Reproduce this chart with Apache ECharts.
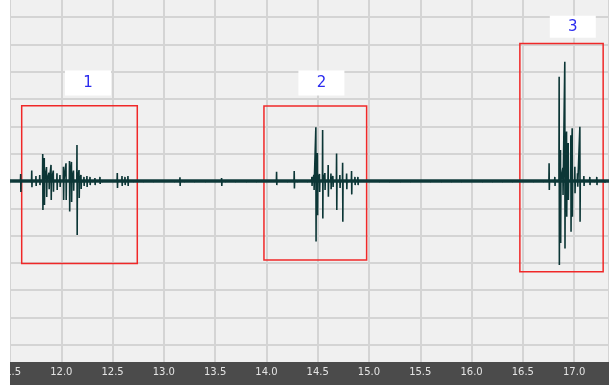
<!DOCTYPE html>
<html>
<head>
<meta charset="utf-8">
<script src="https://cdn.jsdelivr.net/npm/echarts@6/dist/echarts.min.js"></script>
<style>
  html, body { margin: 0; padding: 0; background: #ffffff; }
  #chart { width: 609px; height: 385px; }
</style>
</head>
<body>
<div id="chart"></div>
<script>
// spikes: position, peak above and below the baseline
const spikeX = [
  11.525, 11.56, 11.604, 11.65, 11.712, 11.753, 11.79, 11.819, 11.834, 11.856,
  11.880, 11.900, 11.922, 11.958, 11.987, 12.021, 12.046, 12.080, 12.099, 12.119,
  12.153, 12.173, 12.192, 12.221, 12.250, 12.280, 12.328, 12.377, 12.43, 12.49,
  12.546, 12.592, 12.621, 12.650, 12.72, 12.80, 12.95, 13.157, 13.30, 13.45,
  13.563, 13.70, 13.85, 13.98, 14.099, 14.18, 14.271, 14.35, 14.443, 14.463,
  14.482, 14.497, 14.517, 14.548, 14.570, 14.602, 14.629, 14.648, 14.684, 14.716,
  14.743, 14.782, 14.830, 14.863, 14.892, 14.95, 15.05, 15.20, 15.35, 15.50,
  15.65, 15.80, 15.95, 16.10, 16.25, 16.40, 16.55, 16.68, 16.756, 16.812,
  16.854, 16.867, 16.890, 16.909, 16.926, 16.942, 16.968, 16.981, 17.007, 17.033,
  17.056, 17.095, 17.153, 17.221, 17.30
];
const spikeHi = [
  0.06, 0.07, 0.26, 0.07, 0.38, 0.18, 0.22, 0.99, 0.84, 0.51,
  0.30, 0.59, 0.38, 0.28, 0.22, 0.52, 0.65, 0.73, 0.70, 0.38,
  1.32, 0.40, 0.22, 0.15, 0.18, 0.15, 0.11, 0.15, 0.07, 0.07,
  0.29, 0.18, 0.15, 0.18, 0.06, 0.06, 0.05, 0.14, 0.05, 0.06,
  0.11, 0.05, 0.06, 0.05, 0.34, 0.06, 0.37, 0.06, 0.15, 0.22,
  1.97, 1.03, 0.26, 1.87, 0.29, 0.59, 0.27, 0.18, 1.01, 0.22,
  0.67, 0.27, 0.37, 0.15, 0.15, 0.06, 0.05, 0.06, 0.05, 0.06,
  0.05, 0.06, 0.05, 0.06, 0.05, 0.06, 0.05, 0.06, 0.65, 0.15,
  3.82, 1.14, 0.48, 4.37, 1.81, 1.39, 1.68, 1.93, 0.52, 0.28,
  1.99, 0.18, 0.15, 0.15, 0.06
];
const spikeLo = [
  -0.07, -0.06, -0.40, -0.07, -0.23, -0.18, -0.15, -1.06, -0.88, -0.59,
  -0.30, -0.70, -0.39, -0.33, -0.22, -0.70, -0.70, -1.12, -0.77, -0.36,
  -1.98, -0.62, -0.29, -0.18, -0.22, -0.15, -0.15, -0.11, -0.06, -0.07,
  -0.26, -0.18, -0.15, -0.18, -0.06, -0.06, -0.06, -0.18, -0.06, -0.05,
  -0.18, -0.06, -0.06, -0.05, -0.15, -0.06, -0.27, -0.06, -0.18, -0.33,
  -2.22, -1.25, -0.40, -1.37, -0.33, -0.58, -0.30, -0.22, -1.06, -0.26,
  -1.49, -0.30, -0.49, -0.15, -0.15, -0.06, -0.06, -0.05, -0.06, -0.06,
  -0.05, -0.06, -0.06, -0.05, -0.06, -0.06, -0.06, -0.06, -0.33, -0.18,
  -3.08, -2.27, -0.51, -2.47, -1.31, -0.70, -1.86, -1.31, -0.45, -0.21,
  -1.49, -0.18, -0.15, -0.15, -0.06
];

// marked events
const boxLabels = ["1", "2", "3"];
const boxLeft = [11.614, 13.976, 16.471];
const boxRight = [12.741, 14.977, 17.283];
const boxTop = [2.76, 2.75, 5.04];
const boxBottom = [-3.02, -2.89, -3.32];
const labelX = [12.26, 14.536, 16.987];
const labelY = [3.59, 3.59, 5.65];

const xMin = 11.5;
const xMax = 17.34;

const trace = [];
spikeX.forEach((x, i) => {
  trace.push([x - 0.002, 0], [x, spikeHi[i]], [x + 0.002, spikeLo[i]], [x + 0.004, 0]);
});

const chart = echarts.init(document.getElementById("chart"), null, { renderer: "canvas" });

chart.setOption({
  animation: false,
  backgroundColor: "#ffffff",
  grid: {
    left: 10, right: 0, top: 0, bottom: 23,
    outerBoundsMode: "none",
    containLabel: false,
    show: true, backgroundColor: "#f0f0f0", borderWidth: 0
  },
  xAxis: {
    type: "value",
    min: xMin,
    max: xMax,
    interval: 0.5,
    axisLine: { show: false },
    axisTick: { show: true, length: 3, lineStyle: { color: "#c8c8c8", width: 1 } },
    minorTick: { show: true, splitNumber: 5, length: 2, lineStyle: { color: "#bdbdbd" } },
    splitLine: { show: true, lineStyle: { color: "#d4d4d4", width: 2 } },
    axisLabel: {
      showMaxLabel: false,
      margin: 5,
      color: "#e4e4e4",
      fontSize: 10,
      fontFamily: "DejaVu Sans",
      textShadowColor: "#1a1a1a",
      textShadowOffsetX: 1,
      textShadowOffsetY: 1,
      textShadowBlur: 0,
      formatter: (v) => v.toFixed(1)
    }
  },
  yAxis: {
    type: "value",
    min: -6.63,
    max: 6.63,
    splitNumber: 13,
    axisLine: { show: false },
    axisTick: { show: false },
    axisLabel: { show: false },
    splitLine: { show: true, showMinLine: false, showMaxLine: false, lineStyle: { color: "#d4d4d4", width: 2 } }
  },
  graphic: [
    { type: "rect", shape: { x: 10, y: 362, width: 599, height: 23 }, style: { fill: "#4b4b4b" }, z: -5 },
    { type: "rect", shape: { x: 0, y: 0, width: 10, height: 385 }, style: { fill: "#ffffff" }, z: 100 }
  ],
  series: [
    {
      name: "baseline",
      type: "line",
      data: [[xMin, 0], [xMax, 0]],
      showSymbol: false,
      symbol: "none",
      silent: true,
      lineStyle: { color: "#123c3c", width: 3.5 },
      markPoint: {
        silent: true,
        symbol: "rect",
        itemStyle: { color: "#ffffff" },
        label: { show: true, color: "#2b2bef", fontSize: 15, fontFamily: "DejaVu Sans", formatter: "{b}" },
        data: boxLabels.map((name, i) => ({
          name,
          coord: [labelX[i], labelY[i]],
          symbolSize: i === 2 ? [46, 22] : [46, 25]
        }))
      }
    },
    {
      name: "trace",
      type: "line",
      data: trace,
      showSymbol: false,
      symbol: "none",
      silent: true,
      lineStyle: { color: "#0c3636", width: 1.6 },
      markArea: {
        silent: true,
        itemStyle: { color: "rgba(0,0,0,0)", borderColor: "#f02828", borderWidth: 1.5 },
        label: { show: false },
        data: boxLabels.map((name, i) => [
          { coord: [boxLeft[i], boxTop[i]] },
          { coord: [boxRight[i], boxBottom[i]] }
        ])
      }
    }
  ]
});
</script>
</body>
</html>
